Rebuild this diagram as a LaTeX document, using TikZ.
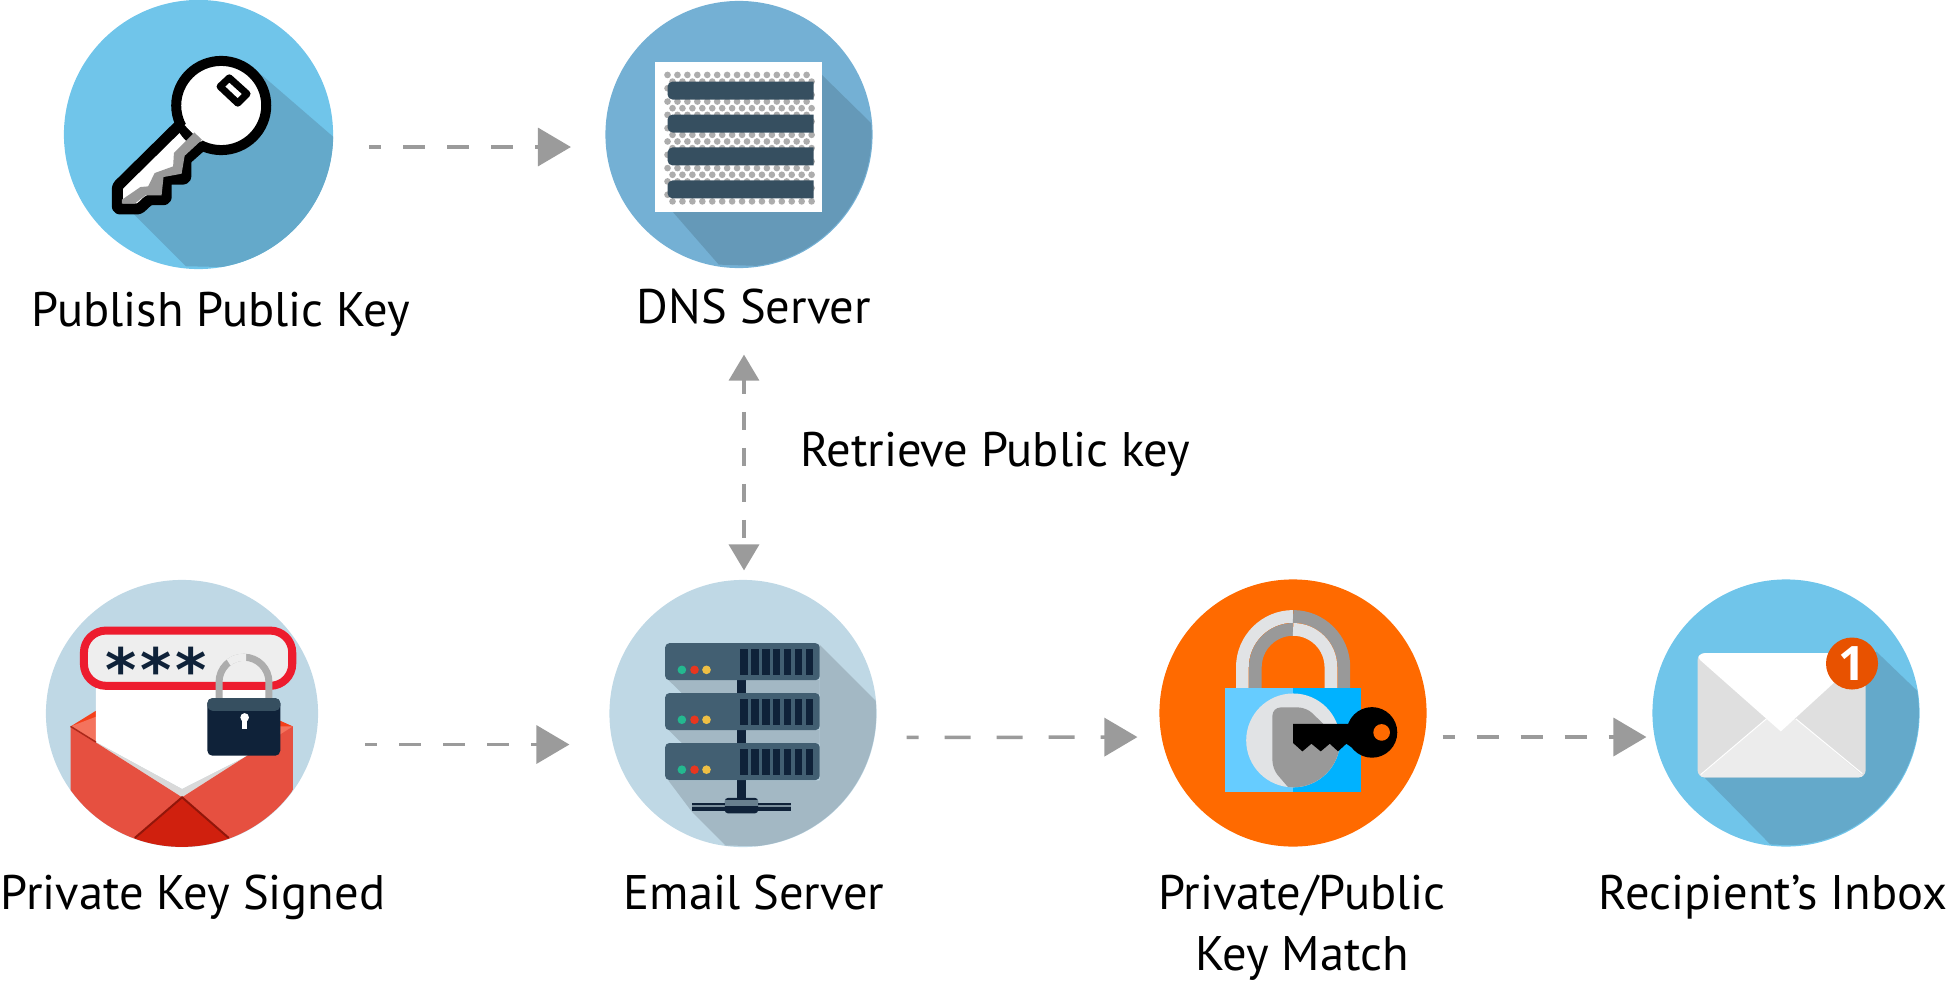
\documentclass[tikz,border=0pt]{standalone}
\usepackage{fontspec}
\setmainfont{PT Sans}
\newfontfamily\badgefont{Open Sans}
\newfontfamily\starfont{DejaVu Sans}
\usetikzlibrary{arrows.meta,shapes.geometric}

\definecolor{skyblue}{HTML}{70C5EA}
\definecolor{skyshade}{HTML}{64A9CA}
\definecolor{dnsblue}{HTML}{74B0D4}
\definecolor{dnsshade}{HTML}{6599B8}
\definecolor{paleblue}{HTML}{BFD8E5}
\definecolor{paleshade}{HTML}{A3B8C4}
\definecolor{slatebar}{HTML}{364F60}
\definecolor{unitblue}{HTML}{425F72}
\definecolor{navy}{HTML}{0F2239}
\definecolor{dotgray}{HTML}{ADADAD}
\definecolor{flapred}{HTML}{E65040}
\definecolor{flapdark}{HTML}{D0200E}
\definecolor{flaporange}{HTML}{F4401B}
\definecolor{flaplight}{HTML}{F4735D}
\definecolor{boxred}{HTML}{ED1C2E}
\definecolor{boxfill}{HTML}{EEEEEE}
\definecolor{lockorange}{HTML}{FF6A00}
\definecolor{lightmetal}{HTML}{E1E3E5}
\definecolor{darkmetal}{HTML}{999999}
\definecolor{bodylight}{HTML}{66CCFF}
\definecolor{bodydeep}{HTML}{00B2FF}
\definecolor{badgeorange}{HTML}{E85200}
\definecolor{ledgreen}{HTML}{24B88F}
\definecolor{ledred}{HTML}{E8361F}
\definecolor{ledyellow}{HTML}{EEBF44}
\definecolor{arrowgray}{HTML}{9B9B9B}

\tikzset{
    disc/.style={circle, minimum size=2.67cm, inner sep=0pt, outer sep=0pt},
    caption/.style={font=\fontsize{13.8}{15}\selectfont, inner sep=0pt, anchor=base, align=center},
    zoomed/.style={x=.003333cm, y=-.003333cm},
    flow/.style={draw=arrowgray, line width=.035cm, dash pattern=on .22cm off .22cm, dash phase=.1cm,
        -{Triangle[length=.33cm, width=.38cm]}},
}

\begin{document}
\begin{tikzpicture}[x=.01cm, y=-.01cm]
    \useasboundingbox (0,0) rectangle (1949,982);

    % Top row
    \node[disc, fill=skyblue, minimum size=2.69cm] (publish) at (198.5,134.5) {};
    \node[disc, fill=dnsblue] (dns) at (739,134.5) {};

    % Bottom row
    \node[ellipse, minimum width=2.72cm, minimum height=2.67cm, inner sep=0pt, outer sep=0pt, fill=paleblue] (signed) at (182,713.5) {};
    \node[disc, fill=paleblue] (emailsrv) at (743,713.5) {};
    \node[disc, fill=lockorange] (match) at (1293,713) {};
    \node[disc, fill=skyblue] (inbox) at (1786,713) {};

    % Key
    \begin{scope}[shift={(0,0)}, x=.003846cm, y=-.003333cm]
        \clip (517,406) circle [x radius=349, y radius=402];
        \fill[skyshade] (680,225) -- (875,420) -- (875,810) -- (483,800) -- (345,640) -- cycle;
    \end{scope}
    \begin{scope}[shift={(0,0)}, x=.003846cm, y=-.003333cm]
        \draw[black, fill=white, line width=.11cm, line join=round, rounded corners=.025cm]
            (470,372) -- (305,560) -- (305,628) -- (362,628) -- (388,600) -- (432,600) -- (432,538)
            -- (483,538) -- (483,480) -- (530,432);
        \draw[black, fill=white, line width=.1cm] (575,317) circle [x radius=117, y radius=134];
        \fill[white] (480,376) -- (522,426) -- (555,395) -- (505,345) -- cycle; % Overgang
        \fill[darkmetal] (505,398) -- (525,420) -- (480,468) -- (472,522) -- (425,532) -- (420,587)
            -- (378,587) -- (350,612) -- (317,612) -- (317,600) -- (365,562) -- (385,560) -- (402,520)
            -- (450,500) -- (452,460) -- cycle;
        \draw[black, fill=white, line width=.07cm, line join=round]
            (596,234) -- (572,260) -- (618,310) -- (642,282) -- cycle;
    \end{scope}

    % Zone file
    \begin{scope}[shift={(580,30)}, zoomed]
        \clip (477,313) circle [radius=399];
        \fill[dnsshade] (727,135) -- (880,285) -- (880,720) -- (417,705) -- (280,548) -- cycle;
    \end{scope}
    \begin{scope}[shift={(580,30)}, zoomed]
        \fill[white] (226,97) rectangle (727,548);
        \foreach \row in {0,...,19} {
            \pgfmathsetmacro{\rowx}{263+15*mod(\row,2)}
            \foreach \col in {0,...,14} {
                \fill[dotgray] (\rowx+29.85*\col,135+20*\row) circle [radius=10];
            }
        }
        \foreach \bary in {155,254,353,452} {
            \fill[slatebar] (702,\bary) [rounded corners=.05cm] -- (263,\bary) -- (263,\bary+54)
                [sharp corners] -- (702,\bary+54) -- cycle;
        }
    \end{scope}

    % Envelope with password
    \begin{scope}[shift={(30,570)}, zoomed]
        \clip (456,431) circle [x radius=408, y radius=401];
        \fill[flaporange] (122,470) -- (198,423) -- (198,520) -- cycle;
        \fill[flaporange] (790,470) -- (700,430) -- (700,520) -- cycle;
        \fill[flaplight] (122,470) -- (198,441) -- (198,520) -- cycle;
        \fill[flaplight] (790,470) -- (720,470) -- (720,520) -- cycle;
        \fill[white] (198,355) -- (710,355) -- (710,530) -- (457,658) -- (198,517) -- cycle;
        \fill[gray!30] (198,517) -- (457,658) -- (660,555) -- (660,575) -- (457,690) -- (198,535) -- cycle;
        \fill[flapred] (122,470) -- (457,683) -- (315,805) -- (315,850) -- (122,850) -- cycle;
        \fill[flapred] (790,470) -- (457,683) -- (597,805) -- (597,850) -- (790,850) -- cycle;
        \draw[flapdark!70!black!70!flapred, line width=.015cm] (122,470) -- (198,517);
        \fill[flapdark] (457,683) -- (615,820) -- (615,850) -- (300,850) -- (300,820) -- cycle;
        \draw[flapdark!70!black, line width=.02cm] (315,805) -- (457,683) -- (597,805);
    \end{scope}
    \begin{scope}[shift={(30,570)}, zoomed]
        \draw[boxred, fill=boxfill, line width=.08cm, rounded corners=.22cm] (162,182) rectangle (788,348);
        \foreach \starx/\starname in {275/stara,379/starb,483/starc} {
            \node[inner sep=0pt, navy, font=\starfont\bfseries\fontsize{17}{17}\selectfont] (\starname) at (\starx,299) {*};
        }
        \draw[dotgray, line width=.07cm] (568,402) -- (568,337) arc [start angle=180, end angle=360, radius=75] -- (718,402);
        \draw[boxfill, line width=.072cm] (643,337) ++(232:75) arc [start angle=232, end angle=275, radius=75];
        \fill[navy, rounded corners=.05cm] (533,385) rectangle (752,558);
        \fill[slatebar, rounded corners=.05cm] (533,385) -- (752,385) -- (752,423) -- (533,423) -- cycle;
        \fill[white] (645,443) circle [radius=13];
        \fill[white] (638,443) rectangle (652,478);
    \end{scope}

    % Server rack
    \begin{scope}[shift={(600,570)}, zoomed]
        \clip (428,430) circle [radius=402];
        \fill[paleshade] (660,225) -- (835,400) -- (835,835) -- (378,828) -- (275,725) -- (205,632) -- (660,632) -- cycle;
        \fill[paleshade] (205,330) -- (248,372) -- (660,372) -- (660,330) -- cycle;
        \fill[paleshade] (205,480) -- (248,522) -- (660,522) -- (660,480) -- cycle;
    \end{scope}
    \begin{scope}[shift={(600,570)}, zoomed]
        \fill[navy] (412,320) rectangle (438,695);
        \foreach \unity in {220,370,520} {
            \fill[unitblue, rounded corners=.04cm] (196,\unity) rectangle (660,\unity+111);
            \foreach \vent in {0,...,6} {
                \fill[navy] (422+32.7*\vent,\unity+18) rectangle (444+32.7*\vent,\unity+95);
            }
            \fill[ledgreen] (246,\unity+80) circle [radius=13];
            \fill[ledred] (284,\unity+80) circle [radius=13];
            \fill[ledyellow] (320,\unity+80) circle [radius=13];
        }
        \fill[navy] (275,699) rectangle (575,725);
        \fill[unitblue!70!white] (275,705) rectangle (575,711);
        \fill[navy, rounded corners=.03cm] (375,685) rectangle (475,731);
        \fill[unitblue!80!white] (375,692) rectangle (475,708);
    \end{scope}

    % Padlock with key
    \begin{scope}[shift={(1150,570)}, zoomed]
        \draw[lightmetal, line width=.127cm] (277.5,356) -- (277.5,292) arc [start angle=180, end angle=270, radius=152.5];
        \draw[darkmetal, line width=.127cm] (582.5,356) -- (582.5,292) arc [start angle=360, end angle=270, radius=152.5];
        \draw[darkmetal, line width=.127cm] (316.5,356) -- (316.5,292) arc [start angle=180, end angle=270, radius=113.5];
        \draw[lightmetal, line width=.127cm] (543.5,356) -- (543.5,292) arc [start angle=360, end angle=270, radius=113.5];
        \fill[bodylight] (226,356) rectangle (430,668);
        \fill[bodydeep] (430,356) rectangle (635,668);
        \fill[lightmetal] (430,512) circle [radius=141];
        \begin{scope}
            \clip (430,512) circle [radius=141];
            \fill[darkmetal, rounded corners=.08cm] (368,413) -- (470,413) -- (590,530) -- (590,680)
                -- (430,670) -- (368,598) -- cycle;
        \end{scope}
        \fill[black] (667,488) circle [radius=76];
        \fill[black] (430,462) -- (620,462) -- (630,550) -- (590,522) -- (565,545) -- (540,522) -- (513,545)
            -- (485,522) -- (458,545) -- (430,520) -- cycle;
        \fill[lockorange] (696,488) circle [radius=25];
    \end{scope}

    % Inbox envelope
    \begin{scope}[shift={(1640,570)}, zoomed]
        \clip (439,428) circle [radius=399];
        \fill[skyshade] (710,245) -- (840,370) -- (840,835) -- (392,825) -- (190,620) -- cycle;
    \end{scope}
    \begin{scope}[shift={(1640,570)}, zoomed]
        \fill[gray!25, rounded corners=.07cm] (173,250) rectangle (678,623);
        \begin{scope}
            \clip[rounded corners=.07cm] (173,250) rectangle (678,623);
            \fill[gray!15] (176,623) -- (380,447) -- (468,447) -- (675,623) -- cycle;
            \draw[white, line width=.01cm] (182,615) -- (380,447);
            \draw[white, line width=.01cm] (668,612) -- (468,447);
            \fill[white] (170,250) -- (180,270) -- (423,485) -- (680,250) -- cycle;
        \end{scope}
        \node[circle, fill=badgeorange, minimum size=.52cm, inner sep=0pt, text=white,
            font=\badgefont\bfseries\fontsize{13.5}{14}\selectfont] (badge) at (637,281) {1};
    \end{scope}

    % Labels
    \node[caption] (publishlbl) at (221,326) {Publish Public Key};
    \node[caption] (dnslbl) at (754,323) {DNS Server};
    \node[caption] (retrievelbl) at (995,466) {Retrieve Public key};
    \node[caption] (signedlbl) at (193,909) {Private Key Signed};
    \node[caption] (emaillbl) at (754,909) {Email Server};
    \node[caption] (matchlbl) at (1302,909) {Private/Public};
    \node[caption] (matchlbltwo) at (1302,970) {Key Match};
    \node[caption] (inboxlbl) at (1773,909) {Recipient’s Inbox};

    % Arrows
    \draw[flow, shorten <=.36cm, shorten >=.345cm] ([yshift=-.125cm]publish.east) -- ([yshift=-.125cm]dns.west);
    \draw[flow, shorten <=.47cm, shorten >=.40cm] ([yshift=-.31cm]signed.east) -- ([yshift=-.31cm]emailsrv.west);
    \draw[flow, shorten <=.30cm, shorten >=.22cm, dash pattern=on .26cm off .26cm, dash phase=.14cm] ([yshift=-.24cm]emailsrv.east) -- ([yshift=-.24cm]match.west);
    \draw[flow, shorten <=.16cm, shorten >=.06cm] ([yshift=-.24cm]match.east) -- ([yshift=-.24cm]inbox.west);
    \draw[draw=arrowgray, line width=.035cm, dash pattern=on .18cm off .18cm, dash phase=.04cm, shorten <=.865cm, shorten >=.095cm,
        {Triangle[length=.26cm, width=.3cm]}-{Triangle[length=.26cm, width=.3cm]}]
        ([xshift=.01cm]emailsrv.north |- dns.south) -- ([xshift=.01cm]emailsrv.north);
\end{tikzpicture}
\end{document}
